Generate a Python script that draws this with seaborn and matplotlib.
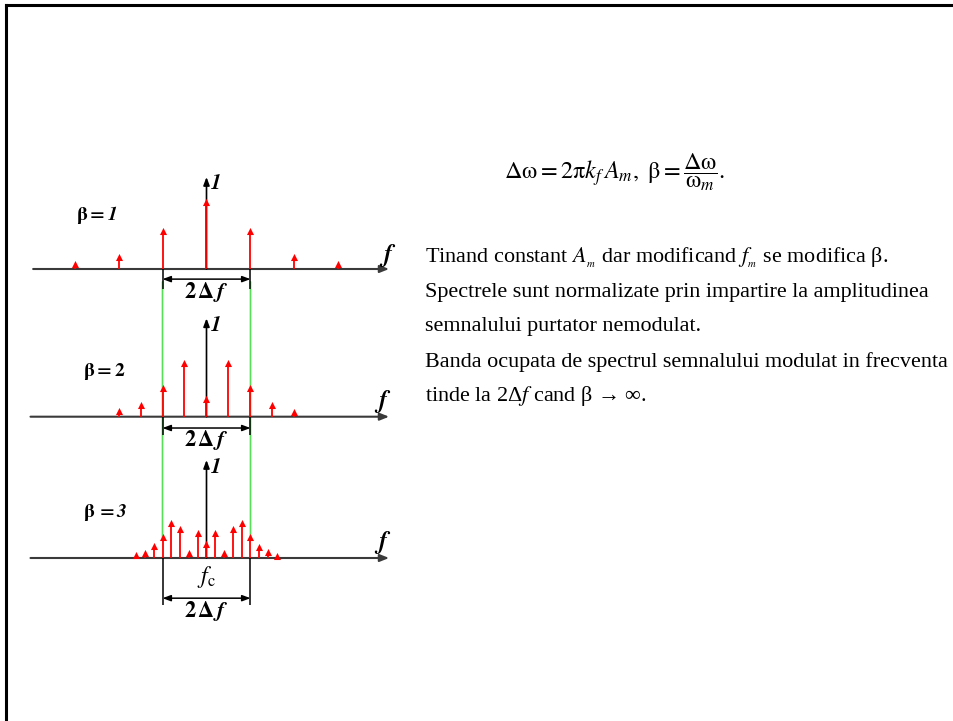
import numpy as np
import matplotlib
matplotlib.use('Agg')
import matplotlib.pyplot as plt
from matplotlib.patches import ConnectionPatch
import seaborn as sns

# ---- date (amplitudini normalizate la purtatoare) ----
k_beta1 = [-3, -2, -1, 0, 1, 2, 3]
amp_beta1 = [0.05, 0.13, 0.41, 0.73, 0.41, 0.13, 0.05]

k_beta2 = [-4, -3, -2, -1, 0, 1, 2, 3, 4]
amp_beta2 = [0.06, 0.12, 0.29, 0.55, 0.18, 0.55, 0.29, 0.12, 0.05]

k_beta3 = [-8, -7, -6, -5, -4, -3, -2, -1, 0, 1, 2, 3, 4, 5, 6, 7, 8]
amp_beta3 = [0.03, 0.05, 0.12, 0.21, 0.36, 0.30, 0.05, 0.26, 0.14,
             0.26, 0.05, 0.30, 0.36, 0.21, 0.11, 0.06, 0.02]

# pasul f_m exprimat in unitati de Delta f
fm_step = [1.0, 0.5, 0.2]
beta_labels = [r'$\mathbf{\beta{=}}\mathbfit{1}$', r'$\mathbf{\beta{=}2}$', r'$\mathbf{\beta\,{=}}\mathbfit{3}$']

formula = r'$\Delta\mathrm{\omega} = 2\mathrm{\pi} k_f\,A_m,\ \mathrm{\beta} = \dfrac{\Delta\mathrm{\omega}}{\mathrm{\omega}_m}.$'
text_lines = [
    r'Tinand constant $A_{_m}$ dar modificand $f_{_m}$ se modifica β.',
    'Spectrele sunt normalizate prin impartire la amplitudinea',
    'semnalului purtator nemodulat.',
    'Banda ocupata de spectrul semnalului modulat in frecventa',
    r'tinde la 2Δ$f$ cand β → ∞.',
]

sns.set_theme(style='white')
plt.rcParams['font.family'] = 'serif'
plt.rcParams['font.serif'] = ['Liberation Serif', 'DejaVu Serif']
plt.rcParams['mathtext.fontset'] = 'stix'
plt.rcParams['text.color'] = 'black'

W, H = 954, 721
fig = plt.figure(figsize=(W / 100, H / 100), dpi=100)
fig.patch.set_facecolor('white')

# chenarul slide-ului (doar sus si stanga)
frame = fig.add_axes([6 / W, 0, 1 - 6 / W, 1 - 5 / H])
frame.set_xticks([])
frame.set_yticks([])
frame.patch.set_alpha(0)
for side in ['right', 'bottom']:
    frame.spines[side].set_visible(False)
for side in ['top', 'left']:
    frame.spines[side].set_color('black')
    frame.spines[side].set_linewidth(2.2)

X_CENTER, PX_DF = 206.5, 44.0
XLIM = (-X_CENTER / PX_DF, (420 - X_CENTER) / PX_DF)


def add_panel(top, bottom, axis_y, unit):
    ax = fig.add_axes([0, 1 - bottom / H, 420 / W, (bottom - top) / H])
    ax.set_xlim(*XLIM)
    ax.set_ylim(-(bottom - axis_y) / unit, (axis_y - top) / unit)
    ax.axis('off')
    return ax


panels = [
    dict(box=(160, 300, 269, 92), lab=(-2.97, 0.59), f=(4.12, 0.15), tick=-0.22, arr=-0.11, dflab=-0.25),
    dict(box=(300, 450, 416.7, 98.4), lab=(-2.81, 0.46), f=(4.01, 0.15), tick=-0.19, arr=-0.115, dflab=-0.24),
    dict(box=(450, 630, 558, 98), lab=(-2.81, 0.46), f=(4.01, 0.16), tick=-0.48, arr=-0.41, dflab=-0.54),
]
data = [(k_beta1, amp_beta1), (k_beta2, amp_beta2), (k_beta3, amp_beta3)]

axes = []
for i, (p, (k, amp)) in enumerate(zip(panels, data)):
    ax = add_panel(*p['box'])
    ylim = ax.get_ylim()
    x = np.array(k) * fm_step[i]

    # axa frecventei
    ax.annotate('', xy=(4.15, 0), xytext=(-4.0 if i else -3.94, 0),
                arrowprops=dict(arrowstyle='-|>,head_length=0.45,head_width=0.18',
                                color='#3a3a3a', lw=1.5, shrinkA=0, shrinkB=0), zorder=2)
    # purtatoarea nemodulata
    ax.annotate('', xy=(0, 1), xytext=(0, 0),
                arrowprops=dict(arrowstyle='-|>,head_length=0.4,head_width=0.15',
                                color='black', lw=1.2, shrinkA=0, shrinkB=0), zorder=2)
    ax.text(0.08, 0.92, r'$\mathbfit{1}$', fontsize=15, ha='left', va='center')

    # liniile spectrale
    ax.vlines(x, 0, amp, color='red', lw=1.3, zorder=3)
    sns.scatterplot(x=x, y=amp, marker='^', s=26, color='red', linewidth=0,
                    ax=ax, zorder=4, legend=False)

    ax.text(*p['lab'], beta_labels[i], fontsize=14, ha='left', va='center')
    ax.text(*p['f'], r'$\mathbfit{f}$', fontsize=18, ha='center', va='center')

    # latimea de banda 2 Delta f
    ax.vlines([-1, 1], p['tick'], 0, color='black', lw=1.1, zorder=2)
    ax.annotate('', xy=(1, p['arr']), xytext=(-1, p['arr']),
                arrowprops=dict(arrowstyle='<|-|>,head_length=0.4,head_width=0.15',
                                color='black', lw=1.1, shrinkA=0, shrinkB=0))
    ax.text(0, p['dflab'], r'$\mathbf{2\,\Delta}\,\mathbfit{f}$', fontsize=16, ha='center', va='center')
    ax.set_xlim(*XLIM)
    ax.set_ylim(*ylim)
    axes.append(ax)

axes[2].text(0, -0.19, r'$f_{\mathrm{c}}$', fontsize=17, ha='center', va='center')

# liniile verzi care marcheaza +/- Delta f
amp_edge = amp_beta3[k_beta3.index(5)]
for side in [-1, 1]:
    con = ConnectionPatch(xyA=(side, -0.14), coordsA=axes[0].transData,
                          xyB=(side, amp_edge), coordsB=axes[2].transData,
                          color='#55e055', lw=1.2, zorder=-1)
    fig.add_artist(con)

# textul din dreapta
fig.text(615 / W, 1 - 172 / H, formula, fontsize=17.5, ha='center', va='center')
line_y = [258, 292, 327, 362, 396]
for y, line in zip(line_y, text_lines):
    fig.text(425 / W, 1 - y / H, line, fontsize=15.9, ha='left', va='center')

fig.savefig('out.png', dpi=100)
